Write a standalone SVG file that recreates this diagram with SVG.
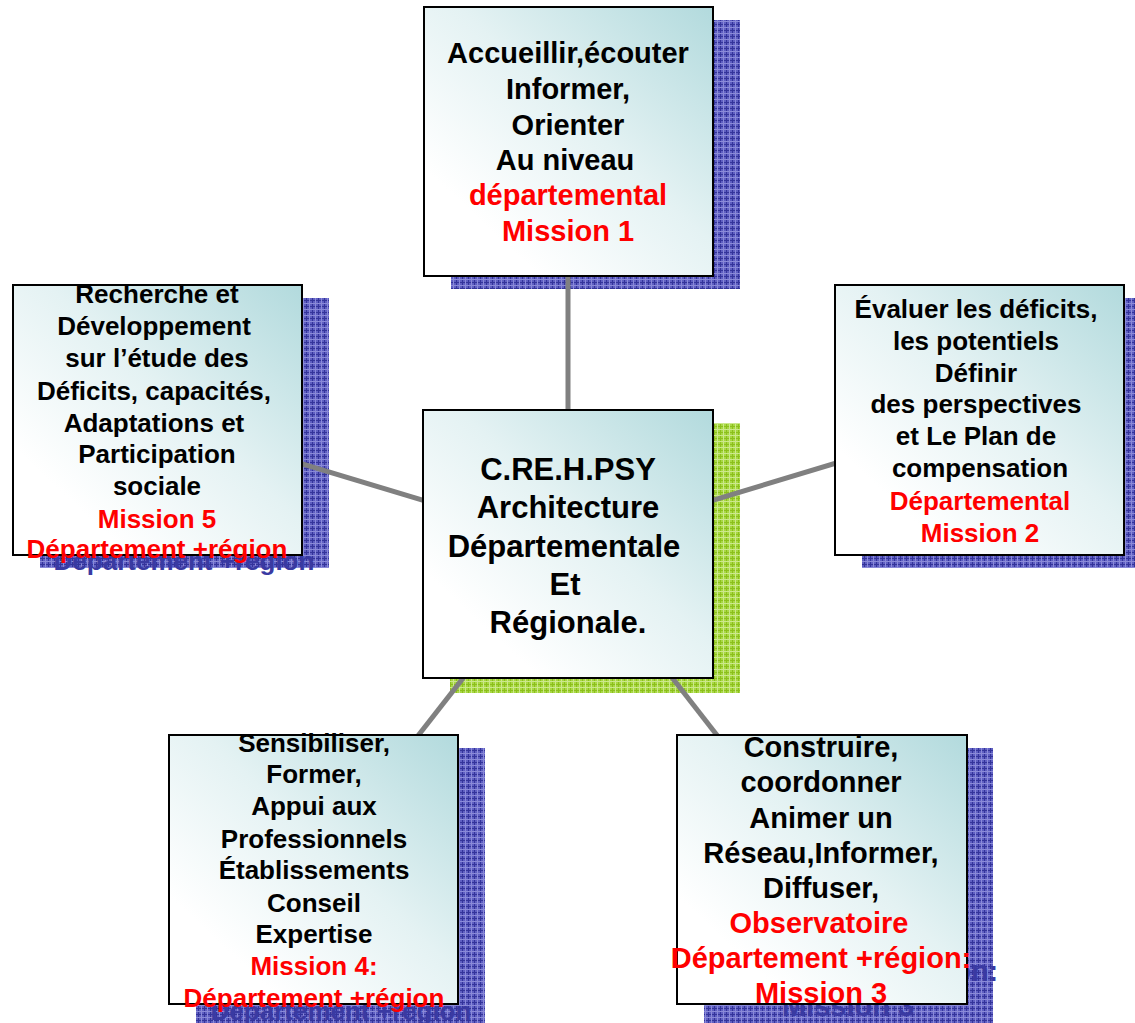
<svg xmlns="http://www.w3.org/2000/svg" width="1135" height="1023" viewBox="0 0 1135 1023">
<defs>
<linearGradient id="boxGrad" x1="1" y1="0" x2="0.2" y2="0.8">
<stop offset="0" stop-color="#b2dadd"/>
<stop offset="0.55" stop-color="#e4f2f3"/>
<stop offset="1" stop-color="#ffffff"/>
</linearGradient>
<pattern id="bluePat" width="6" height="6" patternUnits="userSpaceOnUse">
<rect width="6" height="6" fill="#5f5fc2"/>
<rect x="0" y="0" width="1" height="6" fill="#34349a"/>
<rect x="0" y="0" width="6" height="1" fill="#34349a"/>
<rect x="3" y="0" width="1" height="6" fill="#8a8ad8"/>
<rect x="0" y="3" width="6" height="1" fill="#8a8ad8"/>
</pattern>
<pattern id="greenPat" width="6" height="6" patternUnits="userSpaceOnUse">
<rect width="6" height="6" fill="#a8d844"/>
<rect x="0" y="0" width="1" height="6" fill="#8cbf1c"/>
<rect x="0" y="0" width="6" height="1" fill="#8cbf1c"/>
<rect x="3" y="0" width="1" height="6" fill="#cce88c"/>
<rect x="0" y="3" width="6" height="1" fill="#cce88c"/>
</pattern>
</defs>
<style>
.box{fill:url(#boxGrad);stroke:#000000;stroke-width:2}
.shB{fill:url(#bluePat)}
.shG{fill:url(#greenPat)}
.conn{stroke:#808080;stroke-width:5;fill:none}
text{font-family:"Liberation Sans",Arial,sans-serif;font-weight:bold;text-anchor:middle}
.t26{font-size:26px}
.t29{font-size:29px}
.t31{font-size:31px}
.k{fill:#000000}
.r{fill:#ff0000}
.b{fill:#3a3aa2}
</style>
<g id="shadows">
<rect class="shB" x="451" y="20" width="289" height="269"/>
<rect class="shB" x="40" y="298" width="289" height="270"/>
<rect class="shB" x="862" y="298" width="289" height="270"/>
<rect class="shB" x="196" y="748" width="289" height="275"/>
<rect class="shB" x="704" y="748" width="289" height="275"/>
<rect class="shG" x="450" y="423" width="290" height="270"/>
<text class="t26 b" x="184" y="570">Département +région</text>
<text class="t26 b" x="341" y="1020">Département +région</text>
<text class="t29 b" x="848" y="981">Département +région:</text>
<text class="t29 b" x="848" y="1016">Mission 3</text>
</g>
<g id="connectors">
<line class="conn" x1="568" y1="544" x2="568" y2="141"/>
<line class="conn" x1="568" y1="544" x2="157" y2="420"/>
<line class="conn" x1="568" y1="544" x2="979" y2="420"/>
<line class="conn" x1="568" y1="544" x2="313" y2="870"/>
<line class="conn" x1="568" y1="544" x2="822" y2="870"/>
</g>
<g id="node-mission1">
<rect class="box" x="424" y="7" width="289" height="269"/>
<text class="t29 k" x="568" y="63">Accueillir,écouter</text>
<text class="t29 k" x="568" y="99">Informer,</text>
<text class="t29 k" x="568" y="135">Orienter</text>
<text class="t29 k" x="565" y="170">Au niveau</text>
<text class="t29 r" x="568" y="205">départemental</text>
<text class="t29 r" x="568" y="241">Mission 1</text>
</g>
<g id="node-center">
<rect class="box" x="423" y="410" width="290" height="268"/>
<text class="t31 k" x="568" y="480">C.RE.H.PSY</text>
<text class="t31 k" x="568" y="518">Architecture</text>
<text class="t31 k" x="564" y="557">Départementale</text>
<text class="t31 k" x="565" y="595">Et</text>
<text class="t31 k" x="568" y="633">Régionale.</text>
</g>
<g id="node-mission5">
<rect class="box" x="13" y="285" width="289" height="270"/>
<text class="t26 k" x="157" y="303">Recherche et</text>
<text class="t26 k" x="154" y="335">Développement</text>
<text class="t26 k" x="157" y="367">sur l’étude des</text>
<text class="t26 k" x="154" y="400">Déficits, capacités,</text>
<text class="t26 k" x="154" y="432">Adaptations et</text>
<text class="t26 k" x="157" y="463">Participation</text>
<text class="t26 k" x="157" y="495">sociale</text>
<text class="t26 r" x="157" y="528">Mission 5</text>
<text class="t26 r" x="157" y="558">Département +région</text>
</g>
<g id="node-mission2">
<rect class="box" x="835" y="285" width="289" height="270"/>
<text class="t26 k" x="976" y="318">Évaluer les déficits,</text>
<text class="t26 k" x="976" y="350">les potentiels</text>
<text class="t26 k" x="976" y="382">Définir</text>
<text class="t26 k" x="976" y="413">des perspectives</text>
<text class="t26 k" x="976" y="445">et Le Plan de</text>
<text class="t26 k" x="980" y="477">compensation</text>
<text class="t26 r" x="980" y="510">Départemental</text>
<text class="t26 r" x="980" y="542">Mission 2</text>
</g>
<g id="node-mission4">
<rect class="box" x="169" y="735" width="289" height="269"/>
<text class="t26 k" x="314" y="752">Sensibiliser,</text>
<text class="t26 k" x="314" y="783">Former,</text>
<text class="t26 k" x="314" y="815">Appui aux</text>
<text class="t26 k" x="314" y="848">Professionnels</text>
<text class="t26 k" x="314" y="879">Établissements</text>
<text class="t26 k" x="314" y="912">Conseil</text>
<text class="t26 k" x="314" y="943">Expertise</text>
<text class="t26 r" x="314" y="975">Mission 4:</text>
<text class="t26 r" x="314" y="1007">Département +région</text>
</g>
<g id="node-mission3">
<rect class="box" x="677" y="735" width="290" height="269"/>
<text class="t29 k" x="821" y="757">Construire,</text>
<text class="t29 k" x="821" y="792">coordonner</text>
<text class="t29 k" x="821" y="828">Animer un</text>
<text class="t29 k" x="821" y="863">Réseau,Informer,</text>
<text class="t29 k" x="821" y="898">Diffuser,</text>
<text class="t29 r" x="819" y="933">Observatoire</text>
<text class="t29 r" x="821" y="968">Département +région:</text>
<text class="t29 r" x="821" y="1003">Mission 3</text>
</g>
</svg>
